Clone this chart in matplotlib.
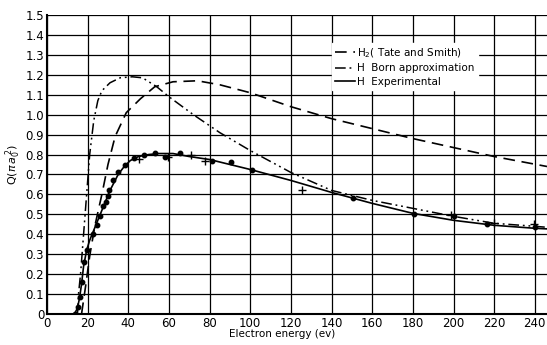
import numpy as np
import matplotlib
matplotlib.use('Agg')
import matplotlib.pyplot as plt

# H2 (Tate and Smith), dashed
h2_e = [17, 18, 19, 21, 23.5, 27, 30, 33.5, 39, 46, 53, 62, 74, 85, 100, 120, 140, 160, 180, 200, 220, 246]
h2_q = [0, 0.07, 0.14, 0.29, 0.44, 0.6, 0.75, 0.89, 1.01, 1.08, 1.14, 1.165, 1.17, 1.15, 1.11, 1.04, 0.98, 0.93, 0.88, 0.835, 0.79, 0.74]

# H Born approximation, dash-dot
born_e = [15, 15.5, 16.5, 18, 19.5, 21, 23, 25, 27, 31, 36, 42, 47, 54, 60, 72, 85, 100, 120, 140, 160, 180, 200, 220, 240, 246]
born_q = [0, 0.1, 0.2, 0.4, 0.6, 0.8, 0.97, 1.07, 1.12, 1.16, 1.185, 1.19, 1.185, 1.14, 1.09, 1.0, 0.91, 0.82, 0.71, 0.62, 0.57, 0.53, 0.49, 0.455, 0.44, 0.435]

# H Experimental, solid curve
exp_e = [13.5, 15, 16, 17, 18, 19.5, 21, 23, 25, 27, 29, 31, 33, 35, 38, 41, 45, 50, 55, 62, 70, 80, 90, 100, 120, 140, 160, 180, 200, 220, 240, 246]
exp_q = [0, 0.03, 0.08, 0.15, 0.24, 0.32, 0.37, 0.42, 0.47, 0.52, 0.57, 0.62, 0.66, 0.70, 0.74, 0.77, 0.79, 0.80, 0.805, 0.805, 0.79, 0.775, 0.75, 0.725, 0.67, 0.61, 0.555, 0.505, 0.47, 0.445, 0.43, 0.427]

# measured points
dot_e = [13.8, 15.4, 16.2, 17.1, 18.2, 19.5, 22.8, 24.7, 26, 27.7, 28.9, 29.8, 30.5, 32.6, 35, 38.4, 42.9, 47.9, 53.1, 58, 65.4, 81, 90.4, 100.7, 150.4, 180.7, 200, 216.6, 240]
dot_q = [0.0, 0.035, 0.087, 0.16, 0.26, 0.32, 0.40, 0.445, 0.49, 0.54, 0.56, 0.59, 0.62, 0.67, 0.71, 0.75, 0.785, 0.80, 0.806, 0.79, 0.807, 0.77, 0.765, 0.72, 0.58, 0.50, 0.49, 0.45, 0.438]
plus_e = [45.3, 59.4, 70.8, 77.7, 125.3, 199, 220, 239.7]
plus_q = [0.78, 0.79, 0.80, 0.77, 0.62, 0.495, 0.455, 0.45]

xticks = np.arange(0, 241, 20)
yticks = np.round(np.arange(0, 1.51, 0.1), 1)

fig = plt.figure(figsize=(5.47, 3.45), dpi=100)
ax = fig.add_axes([47/547, 31/345, 500/547, 299/345])

ax.plot(h2_e, h2_q, color='black', lw=1.2, ls=(0, (7, 4)), label=r'H$_2$( Tate and Smith)')
ax.plot(born_e, born_q, color='black', lw=1.1, ls=(0, (7, 2.5, 1.2, 2.5, 1.2, 2.5)), label='H  Born approximation')
ax.plot(exp_e, exp_q, color='black', lw=1.2, label='H  Experimental')
ax.plot(dot_e, dot_q, 'o', color='black', ms=3.2)
ax.plot(plus_e, plus_q, '+', color='black', ms=6, mew=1)

ax.set_xlim(0, 246)
ax.set_ylim(0, 1.5)
ax.set_xticks(xticks)
ax.set_yticks(yticks)
ax.set_yticklabels(['0' if v == 0 else '%.1f' % v for v in yticks])
ax.tick_params(length=0, labelsize=8.5, pad=2)
ax.grid(True, color='black', lw=0.9)
ax.set_axisbelow(True)
for s in ['top', 'right']:
    ax.spines[s].set_visible(False)
for s in ['left', 'bottom']:
    ax.spines[s].set_linewidth(1.5)

ax.set_xlabel('Electron energy (ev)', fontsize=7.5)
ax.xaxis.set_label_coords(0.47, -0.05)
ax.set_ylabel(r'Q$(\pi\, a_0^{\,2})$', fontsize=8, labelpad=2)

leg = ax.legend(loc='upper left', bbox_to_anchor=(332/547, 1 - 43/345), bbox_transform=fig.transFigure,
                frameon=True, fontsize=7.5, handlelength=1.9, handletextpad=0.2, labelspacing=0.35,
                borderpad=0.3, borderaxespad=0, fancybox=False)
leg.get_frame().set_edgecolor('white')
leg.get_frame().set_facecolor('white')
leg.get_frame().set_alpha(1)

plt.savefig('out.png', dpi=100)
